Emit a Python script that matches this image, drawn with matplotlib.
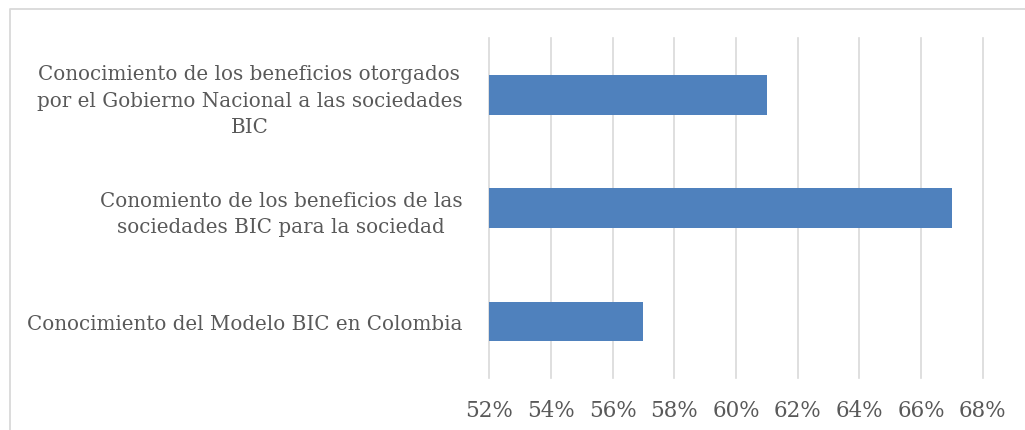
import matplotlib
matplotlib.use("Agg")
import matplotlib.pyplot as plt
from matplotlib.lines import Line2D
from matplotlib.ticker import FuncFormatter, MultipleLocator

categories = [
    "Conocimiento de los beneficios otorgados\npor el Gobierno Nacional a las sociedades\nBIC",
    "Conomiento de los beneficios de las\nsociedades BIC para la sociedad",
    "Conocimiento del Modelo BIC en Colombia",
]
values = [61, 67, 57]  # percent
x_min, x_max, x_step = 52, 68, 2

TEXT = "#595959"
GRID = "#d9d9d9"
BAR = "#4f81bd"
FONT = "DejaVu Serif"

W, H = 1025, 431
fig = plt.figure(figsize=(W / 100, H / 100), dpi=100)
ax = fig.add_axes([489.3 / W, 1 - 379 / H, (982.7 - 489.3) / W, (379 - 39) / H])

ypos = list(range(len(categories)))
ax.barh(ypos, [v - x_min for v in values], left=x_min, height=0.35, color=BAR, zorder=3)

ax.set_xlim(x_min, x_max)
ax.set_ylim(len(categories) - 0.5, -0.5)
ax.xaxis.set_major_locator(MultipleLocator(x_step))
ax.xaxis.set_major_formatter(FuncFormatter(lambda v, p: f"{v:.0f}%"))
ax.set_yticks(ypos)
ax.set_yticklabels(categories, multialignment="center", linespacing=1.5)

ax.grid(axis="x", color=GRID, linewidth=1.2, zorder=0)
ax.grid(axis="y", visible=False)
for gl in ax.get_xgridlines():
    gl.set_clip_on(False)
for s in ax.spines.values():
    s.set_visible(False)
ax.tick_params(axis="both", length=0, colors=TEXT)
ax.tick_params(axis="x", pad=15, labelsize=15.5)
ax.tick_params(axis="y", pad=19.5, labelsize=14.3)
for lab in ax.get_xticklabels() + ax.get_yticklabels():
    lab.set_fontfamily(FONT)
    lab.set_color(TEXT)

# outer chart border (top and left visible)
fig.add_artist(Line2D([10 / W, 10 / W, 1.0], [0.0, 1 - 9.5 / H, 1 - 9.5 / H],
                      transform=fig.transFigure, color=GRID, linewidth=1.3))

fig.savefig("out.png", dpi=100, facecolor="white")
